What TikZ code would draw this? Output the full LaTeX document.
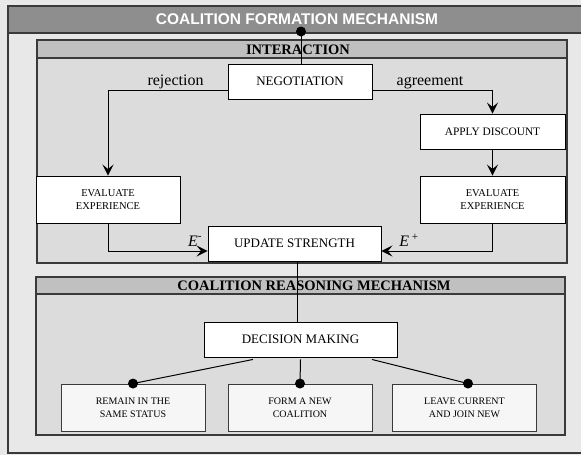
\documentclass[tikz,border=0pt]{standalone}
\usepackage{fontspec}
\setmainfont{Liberation Serif}
\newfontfamily\titlefont{Liberation Sans}
\usetikzlibrary{arrows.meta,calc}
\definecolor{outerbg}{HTML}{E8E8E8}
\definecolor{titlebg}{HTML}{8E8E8E}
\definecolor{headbg}{HTML}{C0C0C0}
\definecolor{bodybg}{HTML}{DCDCDC}
\definecolor{framecol}{HTML}{3A3A3A}
\definecolor{lightbox}{HTML}{F6F6F6}
\tikzset{
  frame/.style={draw=framecol, line width=1.1pt},
  procbox/.style={draw=black, fill=white, line width=0.9pt, inner sep=0pt, align=center},
  choicebox/.style={draw=framecol, fill=lightbox, line width=0.9pt, inner sep=0pt, align=center,
    minimum width=144pt, minimum height=47pt, font=\fontsize{10}{13}\selectfont},
  conn/.style={draw=black, line width=1pt},
  arr/.style={conn, -{Stealth[length=11pt,width=11pt,inset=4.5pt]}},
  lbl/.style={inner sep=0pt, font=\fontsize{16}{18}\selectfont},
  headtxt/.style={inner sep=0pt, font=\fontsize{14.5}{16}\selectfont\bfseries},
}
\begin{document}
\begin{tikzpicture}[x=1pt,y=-1pt]
\useasboundingbox (0,0) rectangle (581,455);
\clip (0,0) rectangle (581,455);
% outer frame
\fill[outerbg] (0,0) rectangle (581,455);
\draw[frame, fill=outerbg] (8,6) rectangle (592,453);
\draw[frame, fill=titlebg] (8,6) rectangle (592,33);
\node[inner sep=0pt, text=white, font=\titlefont\fontsize{15.5}{17}\selectfont\bfseries] (title) at (297,19.5) {COALITION FORMATION MECHANISM};
% interaction frame
\draw[frame, fill=bodybg] (37,40) rectangle (567,263);
\draw[frame, fill=headbg] (37,40) rectangle (567,58);
\node[headtxt] (inthead) at (298,49.5) {INTERACTION};
% reasoning frame
\draw[frame, fill=bodybg] (36,277) rectangle (565,435);
\draw[frame, fill=headbg] (36,277) rectangle (565,294);
\node[headtxt] (reahead) at (314,286) {COALITION REASONING MECHANISM};
% process boxes
\node[procbox, minimum width=144pt, minimum height=35pt, font=\fontsize{13}{15}\selectfont] (neg) at (300,81.5) {NEGOTIATION};
\node[procbox, minimum width=145pt, minimum height=35pt, font=\fontsize{11.4}{13}\selectfont] (apply) at (492.5,131.5) {APPLY DISCOUNT};
\node[procbox, minimum width=144pt, minimum height=47pt, font=\fontsize{10.5}{13}\selectfont] (evl) at (108,199.5) {EVALUATE\\EXPERIENCE};
\node[procbox, minimum width=145pt, minimum height=47pt, font=\fontsize{10.5}{13}\selectfont] (evr) at (492.5,199.5) {EVALUATE\\EXPERIENCE};
\node[procbox, minimum width=173pt, minimum height=35pt, font=\fontsize{13}{15}\selectfont] (upd) at (294.5,243.5) {UPDATE STRENGTH};
\node[procbox, minimum width=193pt, minimum height=35pt, font=\fontsize{13}{15}\selectfont] (dec) at (300.5,339.5) {DECISION MAKING};
\node[choicebox] (remain) at (133,407.5) {REMAIN IN THE\\SAME STATUS};
\node[choicebox] (form) at (300,407.5) {FORM A NEW\\COALITION};
\node[choicebox] (leave) at (464.5,407.5) {LEAVE CURRENT\\AND JOIN NEW};
% connectors
\coordinate (top) at (301,31.5);
\draw[conn] (top) -- (top |- neg.north);
\fill (top) circle (5pt);
\draw[arr] ([yshift=-8.5pt]neg.west) -| (evl.north);
\draw[arr] ([yshift=-8.5pt]neg.east) -| (apply.north);
\node[lbl, anchor=base] (rej) at (175.5,85) {rejection};
\node[lbl, anchor=base] (agr) at (430,85) {agreement};
\draw[arr] (apply.south) -- (evr.north);
\draw[arr] (evl.south) |- ([yshift=-7.5pt]upd.west);
\draw[arr] (evr.south) |- ([yshift=-7.5pt]upd.east);
\node[lbl] (em) at (195,241) {\textit{E}\textsuperscript{-}};
\node[lbl] (ep) at (409,240) {\textit{E}\,\textsuperscript{+}};
\draw[conn] ([xshift=2.5pt]upd.south) -- ([xshift=2.5pt]upd.south |- dec.north);
\draw[conn] ([xshift=-47.5pt,yshift=-2pt]dec.south) -- (remain.north);
\draw[conn] ([yshift=-2pt]dec.south) -- (form.north);
\draw[conn] ([xshift=71.5pt,yshift=-2pt]dec.south) -- ([xshift=3.5pt]leave.north);
\fill (remain.north) circle (5pt);
\fill (form.north) circle (5pt);
\fill ([xshift=3.5pt]leave.north) circle (5pt);
\end{tikzpicture}
\end{document}
